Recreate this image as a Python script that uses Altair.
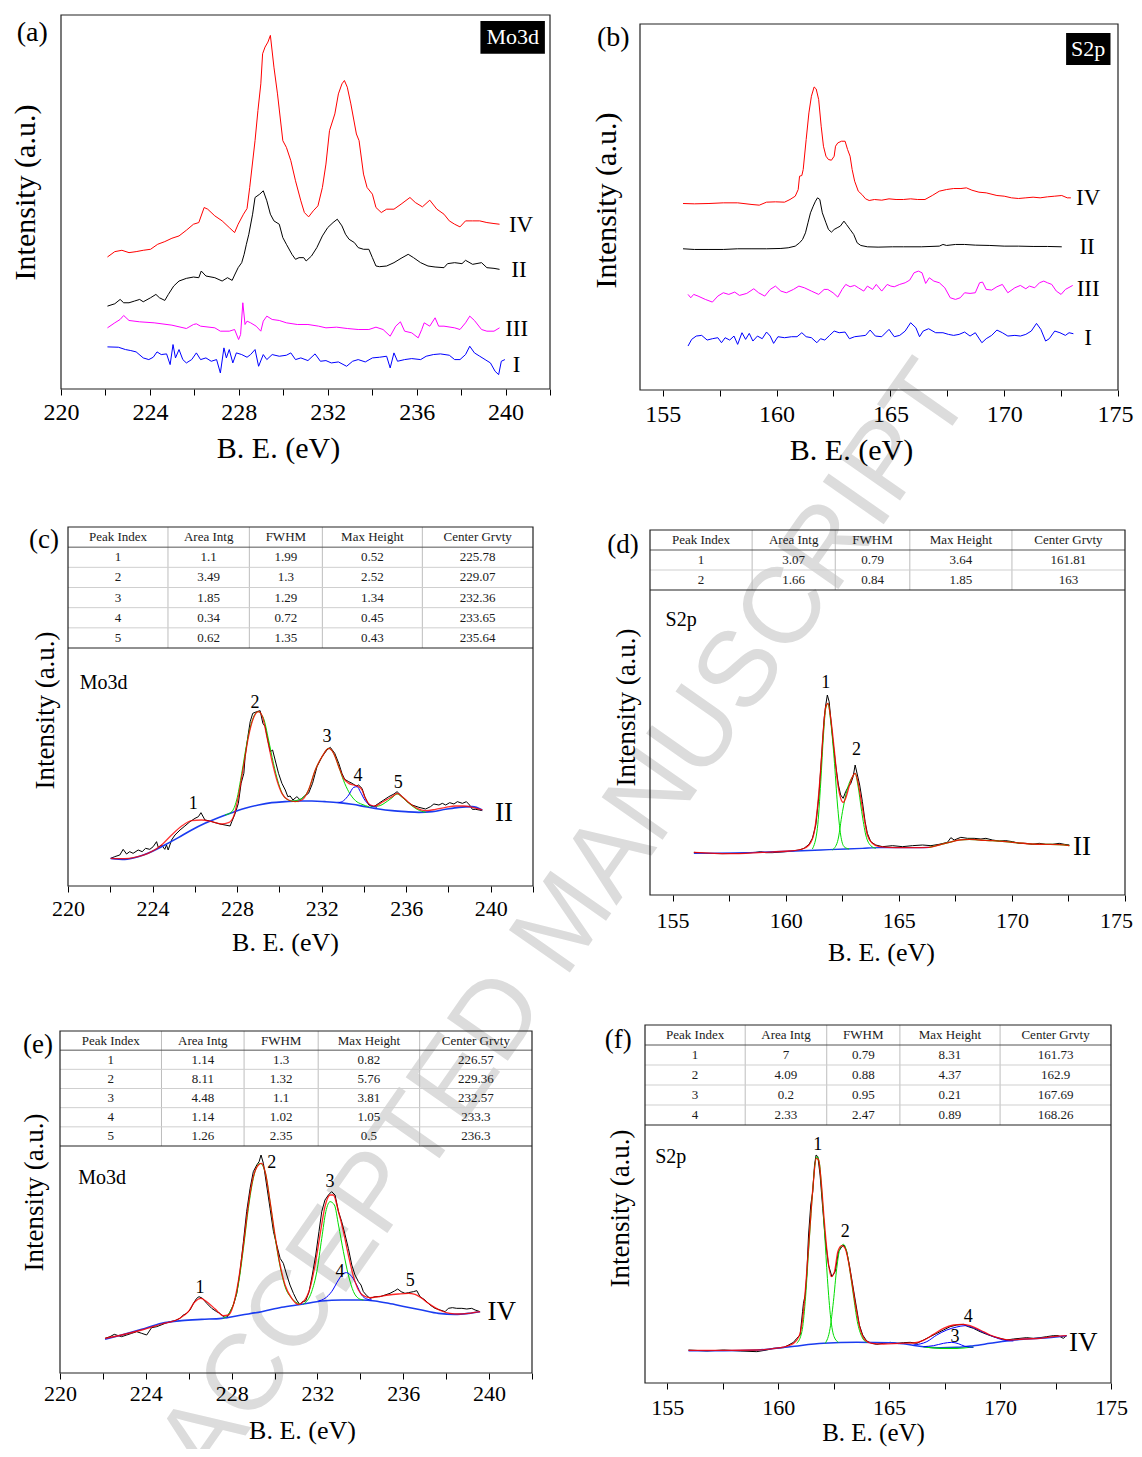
import altair as alt
import pandas as pd

FONT = "Liberation Serif"
W, H = 1126, 1441
MARGIN = 8

# ---------------- data: panel (a) Mo3d survey (x = B.E. eV, y = intensity a.u.) ----------------
A_IV = [(222.09,395),(222.42,411),(222.74,415),(223.06,408),(223.38,411),(223.70,415),(224.03,418),(224.35,433),
        (224.67,441),(224.99,451),(225.31,458),(225.64,475),(225.96,493),(226.20,498),(226.44,543),(226.60,538),
        (226.92,518),(227.25,503),(227.57,483),(227.81,468),(227.97,493),(228.21,523),(228.37,540),(228.49,603),
        (228.73,743),(228.86,833),(228.99,913),(229.07,1003),(229.18,1023),(229.31,1038),(229.42,1058),(229.58,963),
        (229.74,883),(229.98,743),(230.14,723),(230.34,683),(230.55,623),(230.79,563),(230.95,528),(231.14,515),
        (231.35,533),(231.56,548),(231.76,603),(231.92,673),(232.08,773),(232.32,823),(232.48,883),(232.64,913),
        (232.75,923),(232.88,903),(233.04,853),(233.29,763),(233.41,743),(233.61,643),(233.77,603),(234.01,583),
        (234.17,543),(234.41,528),(234.65,538),(234.98,538),(235.30,553),(235.70,573),(235.94,558),(236.26,545),
        (236.59,565),(236.91,538),(237.23,523),(237.47,503),(237.71,493),(237.95,485),(238.20,503),(238.52,503),
        (238.84,503),(239.16,498),(239.48,495),(239.73,493)]
A_II = [(222.09,248),(222.42,255),(222.66,268),(222.82,258),(223.06,258),(223.30,263),(223.54,268),(223.70,261),
        (224.03,273),(224.27,283),(224.43,273),(224.67,265),(224.83,283),(225.07,308),(225.31,323),(225.64,331),
        (225.96,335),(226.20,333),(226.31,353),(226.52,338),(226.92,333),(227.25,323),(227.49,333),(227.70,325),
        (227.81,341),(227.97,363),(228.13,378),(228.24,403),(228.34,433),(228.45,463),(228.62,523),(228.73,573),
        (228.94,583),(229.10,593),(229.26,563),(229.42,523),(229.58,503),(229.82,493),(229.98,453),(230.14,433),
        (230.39,403),(230.55,388),(230.71,393),(230.92,393),(231.03,383),(231.27,398),(231.51,423),(231.76,458),
        (232.00,483),(232.24,498),(232.43,508),(232.64,488),(232.80,463),(232.96,448),(233.20,438),(233.37,423),
        (233.61,418),(233.85,418),(234.01,393),(234.17,368),(234.33,366),(234.65,368),(234.98,378),(235.30,391),
        (235.62,403),(235.86,393),(236.18,378),(236.51,368),(236.83,365),(237.23,363),(237.39,375),(237.71,378),
        (238.04,375),(238.20,385),(238.52,373),(238.92,378),(239.16,363),(239.48,361),(239.73,358)]
A_III = [(222.09,183),(222.42,198),(222.66,208),(222.82,220),(223.06,205),(223.54,201),(224.19,198),(224.99,191),
         (225.64,181),(225.96,193),(226.09,195),(226.28,188),(226.92,183),(227.17,173),(227.57,173),(227.81,178),
         (227.99,148),(228.08,163),(228.18,258),(228.28,193),(228.37,203),(228.53,198),(228.78,188),(228.99,173),
         (229.10,203),(229.26,218),(229.50,208),(229.82,205),(230.14,198),(230.63,193),(231.11,193),(231.59,188),
         (231.92,183),(232.40,185),(232.88,181),(233.37,178),(233.85,178),(234.17,185),(234.49,178),(234.81,158),
         (235.06,188),(235.27,201),(235.46,173),(235.78,168),(236.07,153),(236.23,178),(236.34,198),(236.59,188),
         (236.83,213),(236.99,188),(237.23,188),(237.71,183),(237.95,178),(238.20,198),(238.39,218),(238.60,205),
         (238.92,178),(239.16,173),(239.48,173),(239.73,183)]
A_I = [(222.09,126),(222.58,125),(222.90,118),(223.14,115),(223.38,111),(223.70,93),(223.95,88),(224.15,95),
       (224.32,111),(224.51,103),(224.75,105),(224.91,73),(225.04,133),(225.15,93),(225.31,118),(225.48,88),
       (225.64,78),(225.88,88),(226.09,108),(226.28,88),(226.52,93),(226.76,83),(227.00,88),(227.17,48),
       (227.33,123),(227.44,93),(227.57,118),(227.73,78),(227.89,108),(228.13,103),(228.37,95),(228.53,103),
       (228.73,118),(228.89,68),(229.10,103),(229.26,88),(229.50,103),(229.82,98),(230.14,101),(230.34,108),
       (230.55,88),(230.79,93),(231.11,85),(231.43,105),(231.67,83),(231.92,85),(232.16,78),(232.48,81),
       (232.85,68),(233.12,83),(233.37,88),(233.69,81),(234.01,93),(234.33,95),(234.65,98),(234.81,63),
       (234.98,108),(235.14,83),(235.46,88),(235.78,91),(236.18,88),(236.43,98),(236.75,103),(237.07,105),
       (237.47,101),(237.71,88),(237.95,88),(238.20,103),(238.39,128),(238.60,108),(238.84,98),(239.08,88),
       (239.32,78),(239.53,53),(239.69,43),(239.81,83),(239.97,88)]
A_LABELS = [("IV", 240.7, 491), ("II", 240.6, 355), ("III", 240.5, 181), ("I", 240.5, 73)]

# ---------------- data: panel (b) S2p survey ----------------
B_IV = [(155.89,560),(156.39,559),(157.03,560),(157.66,562),(158.29,562),(158.92,557),(159.24,555),(159.56,564),
        (159.95,565),(160.35,564),(160.59,572),(160.82,582),(160.95,602),(161.01,642),(161.11,644),(161.17,662),
        (161.30,752),(161.42,832),(161.53,882),(161.65,910),(161.74,904),(161.85,872),(161.96,792),(162.06,732),
        (162.17,702),(162.28,692),(162.41,690),(162.53,702),(162.59,732),(162.69,742),(162.85,747),(163.01,747),
        (163.12,722),(163.23,702),(163.32,662),(163.43,627),(163.59,597),(163.75,587),(163.91,574),(164.07,569),
        (164.30,572),(164.62,570),(164.94,574),(165.25,572),(165.57,572),(165.89,574),(166.20,572),(166.52,572),
        (166.84,584),(167.15,597),(167.47,602),(167.78,605),(168.10,605),(168.34,607),(168.58,600),(168.89,594),
        (169.21,592),(169.68,584),(170.00,582),(170.32,577),(170.63,575),(170.95,577),(171.27,579),(171.58,577),
        (171.90,580),(172.22,582),(172.53,584),(172.77,577),(172.93,577)]
B_II = [(155.89,424),(156.39,422),(157.03,422),(157.66,422),(158.29,424),(158.92,424),(159.56,424),(160.19,425),
        (160.51,427),(160.82,432),(161.01,442),(161.14,452),(161.27,472),(161.38,502),(161.49,532),(161.61,552),
        (161.71,567),(161.80,577),(161.90,572),(162.01,532),(162.17,502),(162.28,482),(162.41,474),(162.53,482),
        (162.66,487),(162.80,492),(162.96,507),(163.07,497),(163.23,482),(163.39,467),(163.54,442),(163.70,434),
        (163.99,430),(164.46,429),(165.09,430),(165.57,430),(166.36,430),(167.15,432),(167.31,437),(167.47,434),
        (167.86,437),(168.26,437),(168.73,435),(169.37,434),(170.00,432),(170.63,432),(171.27,431),(171.90,431),
        (172.53,430)]
B_III = [(156.11,287),(156.23,277),(156.36,287),(156.55,282),(156.87,272),(157.18,264),(157.42,282),(157.66,292),
         (157.90,287),(158.16,294),(158.37,284),(158.69,290),(159.00,304),(159.21,292),(159.48,282),(159.72,302),
         (159.95,312),(160.19,297),(160.43,292),(160.74,302),(160.98,312),(161.22,307),(161.53,297),(161.85,287),
         (162.09,302),(162.25,302),(162.48,292),(162.69,279),(162.88,302),(163.04,317),(163.23,310),(163.43,314),
         (163.59,307),(163.83,297),(163.99,312),(164.22,302),(164.38,317),(164.62,297),(164.86,317),(165.02,312),
         (165.17,310),(165.41,317),(165.65,322),(165.85,330),(166.04,352),(166.23,357),(166.39,352),(166.55,320),
         (166.71,337),(166.91,327),(167.15,322),(167.39,307),(167.63,277),(167.86,272),(168.07,277),(168.26,292),
         (168.50,290),(168.73,292),(168.92,322),(169.05,324),(169.21,302),(169.45,300),(169.68,310),(169.92,317),
         (170.16,292),(170.47,307),(170.71,314),(170.95,304),(171.11,312),(171.34,307),(171.55,322),(171.74,327),
         (171.90,322),(172.09,317),(172.29,297),(172.50,287),(172.69,302),(173.01,314)]
B_I = [(156.11,132),(156.27,152),(156.47,162),(156.71,164),(156.95,150),(157.18,154),(157.42,157),(157.58,142),
       (157.74,157),(157.94,150),(158.13,162),(158.29,137),(158.48,172),(158.64,152),(158.80,170),(158.96,147),
       (159.16,162),(159.37,154),(159.56,174),(159.72,162),(159.87,140),(160.06,160),(160.35,157),(160.66,160),
       (160.90,160),(161.11,172),(161.30,160),(161.53,157),(161.77,142),(161.93,154),(162.12,150),(162.33,164),
       (162.53,177),(162.75,172),(163.01,174),(163.20,154),(163.43,160),(163.67,162),(163.91,164),(164.11,180),
       (164.34,162),(164.62,160),(164.94,182),(165.17,160),(165.41,164),(165.65,177),(165.89,202),(166.12,187),
       (166.28,160),(166.44,177),(166.68,184),(166.99,172),(167.31,172),(167.55,167),(167.78,164),(168.02,167),
       (168.26,174),(168.50,162),(168.73,172),(169.02,142),(169.21,154),(169.45,164),(169.68,180),(169.92,172),
       (170.16,162),(170.47,164),(170.71,162),(170.95,167),(171.19,177),(171.42,200),(171.61,182),(171.82,147),
       (171.98,154),(172.22,177),(172.45,172),(172.69,164),(172.85,172),(173.04,169)]
B_LABELS = [("IV", 173.69, 577), ("II", 173.64, 430), ("III", 173.69, 302), ("I", 173.69, 157)]

# ---------------- data: panel (c) Mo3d fit, sample II ----------------
C_RAW = [(222.02,83),(222.21,88),(222.45,93),(222.61,110),(222.77,96),(222.92,103),(223.08,98),(223.32,108),
         (223.51,103),(223.67,113),(223.87,110),(224.03,118),(224.19,133),(224.27,116),(224.43,123),(224.58,110),
         (224.66,123),(224.74,108),(224.90,138),(225.06,153),(225.30,168),(225.53,180),(225.77,193),(226.01,203),
         (226.17,208),(226.29,220),(226.48,198),(226.72,195),(226.96,190),(227.19,186),(227.43,183),(227.67,180),
         (227.75,193),(227.91,218),(228.06,248),(228.19,308),(228.32,338),(228.38,388),(228.51,448),(228.62,493),
         (228.74,518),(228.93,523),(229.09,526),(229.22,488),(229.33,478),(229.45,438),(229.57,403),(229.68,408),
         (229.80,378),(229.96,338),(230.12,308),(230.28,288),(230.40,268),(230.51,270),(230.64,258),(230.83,268),
         (230.99,258),(231.19,270),(231.38,278),(231.57,308),(231.78,358),(232.02,388),(232.25,408),(232.41,416),
         (232.62,398),(232.81,368),(232.96,338),(233.09,320),(233.28,313),(233.44,308),(233.64,300),(233.75,303),
         (233.91,293),(234.04,268),(234.23,243),(234.47,238),(234.70,248),(234.94,258),(235.18,268),(235.42,276),
         (235.57,283),(235.81,268),(236.05,253),(236.28,243),(236.60,236),(236.92,231),(237.15,238),(237.31,246),
         (237.55,243),(237.71,248),(237.87,243),(238.06,250),(238.26,246),(238.42,253),(238.66,248),(238.85,253),
         (239.00,243),(239.13,230),(239.29,230),(239.45,228),(239.60,226)]
C_FIT = [(222.02,83),(222.69,82),(223.16,86),(223.79,98),(224.43,123),(224.90,153),(225.38,180),(225.85,196),
         (226.32,198),(226.80,193),(227.27,186),(227.59,190),(227.83,208),(228.06,268),(228.30,358),(228.54,448),
         (228.77,503),(229.01,523),(229.20,508),(229.41,448),(229.64,378),(229.88,318),(230.12,278),(230.43,258),
         (230.75,253),(231.07,258),(231.38,288),(231.70,348),(232.02,388),(232.33,413),(232.57,398),(232.81,358),
         (233.04,323),(233.28,308),(233.52,303),(233.75,298),(233.91,288),(234.07,263),(234.31,243),(234.55,240),
         (234.78,248),(235.10,260),(235.34,268),(235.57,278),(235.81,268),(236.13,250),(236.52,233),(236.92,226),
         (237.39,230),(237.87,236),(238.34,240),(238.74,240),(239.13,236),(239.60,228)]
C_BASE = [(222.02,83),(222.69,80),(223.32,88),(223.95,103),(224.58,123),(225.22,145),(225.85,168),(226.48,188),
          (227.11,205),(227.75,220),(228.38,233),(229.01,243),(229.64,250),(230.28,253),(230.91,255),(231.54,255),
          (232.17,253),(232.81,250),(233.44,245),(234.07,238),(234.70,231),(235.34,226),(235.97,223),(236.60,221),
          (237.23,223),(237.87,230),(238.50,236),(239.13,238),(239.60,228)]
C_P2 = [(227.43,213),(227.75,223),(227.98,258),(228.22,338),(228.46,428),(228.70,493),(228.98,523),(229.25,503),
        (229.49,438),(229.72,368),(229.96,308),(230.20,270),(230.51,256),(230.91,253)]
C_P3 = [(230.59,254),(231.07,263),(231.38,288),(231.70,348),(232.02,388),(232.33,413),(232.57,398),(232.81,358),
        (233.04,316),(233.28,283),(233.60,256),(233.91,245),(234.23,238)]
C_P4 = [(232.81,250),(233.04,256),(233.28,273),(233.52,296),(233.68,298),(233.83,283),(234.04,258),(234.31,242),
        (234.62,236)]
C_P5 = [(234.31,238),(234.70,240),(235.10,254),(235.34,265),(235.57,276),(235.81,266),(236.13,248),(236.52,230),
        (236.92,221)]
C_PEAKS = [("1", 225.93, 246), ("2", 228.85, 550), ("3", 232.25, 446), ("4", 233.72, 331), ("5", 235.62, 308)]

# ---------------- data: panel (d) S2p fit, sample II ----------------
D_RAW = [(155.94,128),(156.46,125),(157.20,124),(157.94,125),(158.67,128),(158.89,130),(159.12,127),(159.41,127),
         (160.00,130),(160.29,132),(160.59,135),(160.81,140),(161.03,152),(161.18,170),(161.33,210),(161.47,300),
         (161.59,420),(161.70,530),(161.77,570),(161.84,600),(161.92,580),(161.99,530),(162.09,460),(162.21,390),
         (162.33,330),(162.43,300),(162.54,290),(162.65,310),(162.77,325),(162.88,335),(162.98,355),(163.07,390),
         (163.17,360),(163.27,330),(163.39,280),(163.51,220),(163.61,185),(163.76,160),(163.98,150),(164.28,145),
         (164.72,148),(165.16,145),(165.60,148),(166.05,150),(166.42,148),(166.78,152),(167.15,158),(167.30,172),
         (167.45,165),(167.74,173),(168.04,170),(168.33,170),(168.63,168),(168.85,170),(169.14,165),(169.44,162),
         (169.73,163),(170.03,160),(170.32,155),(170.62,155),(170.91,152),(171.21,155),(171.50,152),(171.80,152),
         (172.09,155),(172.32,152),(172.54,150)]
D_FIT = [(155.94,128),(157.49,124),(158.97,128),(160.15,132),(160.74,138),(161.03,150),(161.25,185),(161.40,260),
         (161.55,380),(161.67,500),(161.77,565),(161.87,575),(161.99,530),(162.14,440),(162.29,340),(162.43,290),
         (162.54,278),(162.65,290),(162.80,325),(162.95,355),(163.07,365),(163.19,340),(163.32,290),(163.47,230),
         (163.61,180),(163.83,155),(164.13,145),(164.87,142),(165.60,142),(166.34,143),(166.78,150),(167.23,158),
         (167.67,165),(168.11,167),(168.55,165),(169.14,163),(169.73,160),(170.32,156),(170.91,153),(171.50,152),
         (172.09,151),(172.54,148)]
D_BASE = [(155.94,125),(158.23,127),(160.44,132),(161.92,136),(163.39,140),(164.13,142),(165.60,142),(166.34,143)]
D_BUMP = [(166.34,143),(166.78,150),(167.23,158),(167.67,165),(168.11,167),(168.55,165),(169.14,163),(169.73,160),
          (170.32,156),(170.91,153),(171.50,152),(172.09,151),(172.54,148)]
D_P1 = [(161.18,138),(161.40,200),(161.55,340),(161.67,480),(161.77,560),(161.87,575),(161.99,520),(162.14,410),
        (162.29,270),(162.43,180),(162.58,145),(162.80,138)]
D_P2 = [(162.06,135),(162.29,160),(162.51,250),(162.73,320),(162.95,355),(163.07,365),(163.19,330),(163.36,250),
        (163.54,180),(163.76,148),(163.98,140)]
D_PEAKS = [("1", 161.77, 635), ("2", 163.13, 435)]

# ---------------- data: panel (e) Mo3d fit, sample IV ----------------
E_RAW = [(222.10,104),(222.33,109),(222.53,116),(222.72,112),(222.87,109),(223.11,114),(223.34,119),(223.57,124),
         (223.81,119),(224.04,114),(224.27,136),(224.51,139),(224.71,144),(224.90,149),(225.13,154),(225.36,157),
         (225.59,164),(225.75,174),(225.91,179),(226.06,189),(226.22,209),(226.37,224),(226.48,229),(226.64,224),
         (226.84,209),(227.07,194),(227.30,184),(227.46,179),(227.61,169),(227.77,166),(227.93,184),(228.08,204),
         (228.24,239),(228.39,304),(228.55,394),(228.70,484),(228.86,554),(229.01,604),(229.17,624),(229.28,634),
         (229.37,654),(229.48,629),(229.63,564),(229.79,494),(229.95,424),(230.10,384),(230.26,344),(230.41,329),
         (230.57,294),(230.72,264),(230.88,239),(231.03,219),(231.19,204),(231.30,214),(231.45,216),(231.61,244),
         (231.76,294),(231.92,354),(232.07,424),(232.20,484),(232.35,519),(232.51,534),(232.66,544),(232.82,534),
         (232.98,484),(233.13,454),(233.29,414),(233.44,374),(233.60,324),(233.75,294),(233.91,274),(234.03,264),
         (234.14,244),(234.30,232),(234.45,224),(234.69,229),(234.92,229),(235.15,234),(235.38,239),(235.59,246),
         (235.74,252),(235.90,244),(236.08,239),(236.24,241),(236.47,244),(236.63,247),(236.78,229),(237.01,219),
         (237.25,204),(237.48,194),(237.72,189),(237.95,184),(238.10,194),(238.29,196),(238.49,194),(238.73,194),
         (238.96,192),(239.19,194),(239.35,189),(239.58,184)]
E_FIT = [(222.10,104),(222.87,114),(223.81,129),(224.74,147),(225.52,162),(225.98,184),(226.29,214),(226.56,224),
         (226.84,214),(227.23,192),(227.61,172),(227.85,174),(228.08,204),(228.31,274),(228.55,384),(228.78,504),
         (229.01,589),(229.25,624),(229.40,629),(229.56,604),(229.79,514),(230.02,414),(230.26,324),(230.49,264),
         (230.80,224),(231.11,206),(231.34,214),(231.65,254),(231.89,324),(232.12,414),(232.35,499),(232.59,534),
         (232.74,534),(232.98,484),(233.21,424),(233.44,354),(233.68,289),(233.91,249),(234.14,232),(234.45,226),
         (234.84,229),(235.31,234),(235.77,237),(236.24,239),(236.55,236),(236.86,224),(237.17,209),(237.48,196),
         (237.79,186),(238.18,179),(238.57,177),(239.04,179),(239.58,184)]
E_BASE = [(222.10,101),(222.87,114),(223.81,131),(224.74,149),(225.67,157),(226.60,161),(227.54,164),(228.47,174),
          (229.40,184),(230.33,197),(231.27,206),(232.20,216),(233.13,219),(234.06,219),(234.69,216),(235.31,209),
          (236.08,199),(236.86,189),(237.64,179),(238.41,176),(239.04,179),(239.58,184)]
E_P2 = [(227.61,164),(227.93,184),(228.31,264),(228.55,374),(228.78,494),(229.01,584),(229.32,629),(229.56,604),
        (229.79,514),(230.02,409),(230.26,319),(230.49,259),(230.80,224),(231.19,206)]
E_P3 = [(231.34,206),(231.73,244),(231.97,304),(232.20,404),(232.39,484),(232.59,514),(232.79,504),(232.98,444),
        (233.21,364),(233.44,294),(233.68,244),(233.91,224),(234.14,219)]
E_P4 = [(232.04,216),(232.35,224),(232.66,244),(232.98,279),(233.21,299),(233.36,301),(233.60,289),(233.83,264),
        (234.06,234),(234.30,222),(234.53,219)]
E_PEAKS = [("1", 226.53, 254), ("2", 229.87, 629), ("3", 232.59, 574), ("4", 233.05, 304), ("5", 236.32, 276)]

# ---------------- data: panel (f) S2p fit, sample IV ----------------
F_RAW = [(155.96,99),(156.79,96),(157.54,99),(158.29,96),(159.04,94),(159.49,99),(159.79,104),(160.24,106),
         (160.47,114),(160.69,122),(160.84,134),(160.99,144),(161.10,214),(161.14,239),(161.22,264),(161.29,324),
         (161.37,444),(161.47,534),(161.56,574),(161.64,654),(161.71,684),(161.79,679),(161.89,624),(162.01,524),
         (162.12,434),(162.27,354),(162.42,319),(162.57,334),(162.72,394),(162.87,409),(162.97,414),(163.09,394),
         (163.21,354),(163.36,294),(163.51,234),(163.66,174),(163.81,144),(163.99,126),(164.22,119),(164.44,116),
         (164.74,119),(165.05,122),(165.35,119),(165.65,121),(165.95,122),(166.25,119),(166.55,129),(166.85,139),
         (167.15,149),(167.45,159),(167.75,169),(168.05,174),(168.35,176),(168.57,169),(168.80,164),(169.10,154),
         (169.40,146),(169.70,139),(170.00,134),(170.30,129),(170.60,132),(170.90,134),(171.20,136),(171.50,134),
         (171.80,136),(172.10,139),(172.40,142),(172.63,142),(172.85,134),(173.00,142)]
F_FIT = [(155.96,98),(157.54,98),(159.04,99),(160.09,106),(160.69,119),(160.99,149),(161.14,214),(161.29,334),
         (161.44,474),(161.59,604),(161.71,674),(161.82,669),(161.94,604),(162.07,494),(162.22,384),(162.39,319),
         (162.54,334),(162.69,394),(162.87,412),(163.02,404),(163.17,364),(163.32,304),(163.51,224),(163.69,164),
         (163.92,129),(164.22,119),(164.74,117),(165.50,119),(166.10,120),(166.55,128),(167.00,146),(167.45,164),
         (167.90,174),(168.27,176),(168.65,172),(169.10,159),(169.55,144),(170.00,134),(170.45,129),(171.05,132),
         (171.80,134),(172.40,139),(173.00,142)]
F_BASE = [(155.96,97),(157.54,97),(159.04,99),(160.54,109),(162.04,119),(163.54,122),(165.05,121),(165.80,116),
          (166.55,109),(167.30,106),(168.05,107),(168.80,112),(169.55,119),(170.30,126),(171.05,131),(171.80,134),
          (173.00,142)]
F_P1 = [(160.84,119),(161.07,154),(161.22,244),(161.37,394),(161.52,544),(161.64,644),(161.74,679),(161.85,664),
        (161.97,574),(162.09,454),(162.22,314),(162.37,194),(162.52,139),(162.72,122)]
F_P2 = [(162.12,119),(162.34,164),(162.49,244),(162.64,344),(162.79,404),(162.94,416),(163.09,394),(163.24,334),
        (163.39,264),(163.57,184),(163.77,139),(163.99,122)]
F_P3 = [(166.55,109),(167.00,112),(167.45,119),(167.82,122),(168.12,118),(168.42,110),(168.80,107)]
F_P3G = [(166.55,109),(167.30,104),(168.05,104),(168.80,108)]
F_P4 = [(166.10,114),(166.70,124),(167.15,144),(167.60,159),(168.05,168),(168.42,172),(168.80,166),(169.25,152),
        (169.70,139),(170.15,129),(170.60,126)]
F_PEAKS = [("1", 161.79, 714), ("2", 163.02, 454), ("3", 167.97, 139), ("4", 168.57, 199)]

# ---------------- fit tables ----------------
HEADERS = ["Peak Index", "Area Intg", "FWHM", "Max Height", "Center Grvty"]
C_TABLE = [["1", "1.1", "1.99", "0.52", "225.78"],
           ["2", "3.49", "1.3", "2.52", "229.07"],
           ["3", "1.85", "1.29", "1.34", "232.36"],
           ["4", "0.34", "0.72", "0.45", "233.65"],
           ["5", "0.62", "1.35", "0.43", "235.64"]]
D_TABLE = [["1", "3.07", "0.79", "3.64", "161.81"],
           ["2", "1.66", "0.84", "1.85", "163"]]
E_TABLE = [["1", "1.14", "1.3", "0.82", "226.57"],
           ["2", "8.11", "1.32", "5.76", "229.36"],
           ["3", "4.48", "1.1", "3.81", "232.57"],
           ["4", "1.14", "1.02", "1.05", "233.3"],
           ["5", "1.26", "2.35", "0.5", "236.3"]]
F_TABLE = [["1", "7", "0.79", "8.31", "161.73"],
           ["2", "4.09", "0.88", "4.37", "162.9"],
           ["3", "0.2", "0.95", "0.21", "167.69"],
           ["4", "2.33", "2.47", "0.89", "168.26"]]

# ---------------- layout (page pixels) ----------------
TICKS_MO = [220, 222, 224, 226, 228, 230, 232, 234, 236, 238, 240, 242]
TICKS_S = [155, 157.5, 160, 162.5, 165, 167.5, 170, 172.5, 175]
COL_EDGES = [21.5, 39.0, 54.7, 76.2]
COL_CENTERS = [10.75, 30.25, 46.85, 65.45, 88.1]

LA = dict(xdom=[220, 242], ydom=[0, 1119], left=61, right=550, bottom=389, top=15, ticks=TICKS_MO, major=4,
          lfs=24, lpad=17, tfs=30, tx=278, ty=68, ytx=25, yty=192, ytfs=30, edge=0)
LB = dict(xdom=[154, 175], ydom=[0, 1099], left=640, right=1118, bottom=390, top=24, ticks=TICKS_S, major=5,
          lfs=24, lpad=18, tfs=30, tx=851, ty=69, ytx=606, yty=200, ytfs=30, edge=-3)
LC = dict(xdom=[220, 242], ydom=[0, 1077], left=68, right=533, bottom=886, top=527, tbottom=648, ticks=TICKS_MO,
          major=4, lfs=22, lpad=16, tfs=26, tx=285, ty=64, ytx=45, yty=710, ytfs=27, edge=0)
LD = dict(xdom=[154, 175], ydom=[0, 1095], left=650, right=1125, bottom=895, top=530, tbottom=590, ticks=TICKS_S,
          major=5, lfs=22, lpad=19, tfs=26, tx=881, ty=65, ytx=626, yty=707, ytfs=27, edge=-9)
LE = dict(xdom=[220, 242], ydom=[0, 1026], left=60, right=532, bottom=1373, top=1031, tbottom=1146, ticks=TICKS_MO,
          major=4, lfs=22, lpad=14, tfs=26, tx=302, ty=65, ytx=34, yty=1192, ytfs=27, edge=0)
LF = dict(xdom=[154, 175], ydom=[0, 1074], left=645, right=1111, bottom=1383, top=1025, tbottom=1125, ticks=TICKS_S,
          major=5, lfs=22, lpad=18, tfs=25, tx=873, ty=57, ytx=620, yty=1208, ytfs=27, edge=0)

RED, BLACK, MAG, BLUE, GREEN, BASE = "#ff0000", "#000000", "#ff00ff", "#0000ff", "#00dd00", "#1a3cf0"


def c(p):
    return p - MARGIN


def xaxis(L):
    return alt.Axis(orient="bottom", offset=c(L["bottom"]) - H, values=L["ticks"], zindex=2,
                    labelExpr="datum.value %% %d == 0 ? datum.label : ''" % L["major"],
                    labelOffset={"condition": {"test": "datum.value == 175", "value": L["edge"]}, "value": 0},
                    domain=False, grid=False, ticks=True, tickSize=6, tickColor="black", tickWidth=1,
                    labelFont=FONT, labelFontSize=L["lfs"], labelColor="black", labelFlush=False,
                    labelOverlap=False, labelBaseline="middle", labelPadding=L["lpad"],
                    title="B. E. (eV)", titleFont=FONT, titleFontSize=L["tfs"], titleFontWeight="normal",
                    titleColor="black", titleX=c(L["tx"]), titleY=L["ty"], titleAlign="center",
                    titleBaseline="alphabetic")


def yaxis(L):
    return alt.Axis(orient="left", offset=-c(L["left"]), domain=False, ticks=False, labels=False, grid=False,
                    zindex=2, title="Intensity (a.u.)", titleFont=FONT, titleFontSize=L["ytfs"],
                    titleFontWeight="normal", titleColor="black", titleAngle=270, titleAlign="center",
                    titleBaseline="middle", titleX=L["ytx"] - L["left"], titleY=c(L["yty"]))


def panel(L, lines, texts, boxes=()):
    X = alt.X("x:Q", scale=alt.Scale(domain=L["xdom"], range=[c(L["left"]), c(L["right"])], nice=False, zero=False),
              axis=xaxis(L))
    Y = alt.Y("y:Q", scale=alt.Scale(domain=L["ydom"], range=[c(L["bottom"]), c(L["top"])], nice=False, zero=False),
              axis=yaxis(L))
    layers = []
    frame = pd.DataFrame({"x": [L["xdom"][0]], "x2": [L["xdom"][1]], "y": [L["ydom"][0]], "y2": [L["ydom"][1]]})
    layers.append(alt.Chart(frame).mark_rect(fillOpacity=0, stroke="#222222", strokeWidth=1.2)
                  .encode(x=X, x2="x2:Q", y=Y, y2="y2:Q"))
    for pts, color, width, interp, op in lines:
        df = pd.DataFrame(pts, columns=["x", "y"])
        layers.append(alt.Chart(df).mark_line(color=color, strokeWidth=width, interpolate=interp, opacity=op)
                      .encode(x=X, y=Y))
    for (x0, x1, y0, y1) in boxes:
        bdf = pd.DataFrame({"x": [x0], "x2": [x1], "y": [y0], "y2": [y1]})
        layers.append(alt.Chart(bdf).mark_rect(color="black").encode(x=X, x2="x2:Q", y=Y, y2="y2:Q"))
    for items, size, align, color in texts:
        tdf = pd.DataFrame(items, columns=["t", "x", "y"])
        layers.append(alt.Chart(tdf).mark_text(font=FONT, fontSize=size, align=align, baseline="middle",
                                               color=color).encode(x=X, y=Y, text="t:N"))
    return alt.layer(*layers)


def table(L, rows):
    n = len(rows) + 1
    TX = alt.X("x:Q", scale=alt.Scale(domain=[0, 100], range=[c(L["left"]), c(L["right"])], nice=False, zero=False),
               axis=None)
    TY = alt.Y("y:Q", scale=alt.Scale(domain=[0, n], range=[c(L["top"]), c(L["tbottom"])], nice=False, zero=False),
               axis=None)
    cells = [(COL_CENTERS[j], 0.5, h) for j, h in enumerate(HEADERS)]
    for i, r in enumerate(rows):
        for j, v in enumerate(r):
            cells.append((COL_CENTERS[j], i + 1.5, v))
    text = alt.Chart(pd.DataFrame(cells, columns=["x", "y", "t"])).mark_text(
        font=FONT, fontSize=13, color="#1a1a1a", baseline="middle").encode(x=TX, y=TY, text="t:N")
    vl = pd.DataFrame([(e, 0, n) for e in COL_EDGES], columns=["x", "y", "y2"])
    vlines = alt.Chart(vl).mark_rule(color="#bdbdbd", strokeWidth=1).encode(x=TX, y=TY, y2="y2:Q")
    hl = pd.DataFrame([(0, 100, k) for k in range(2, n)], columns=["x", "x2", "y"])
    hlines = alt.Chart(hl).mark_rule(color="#cfcfcf", strokeWidth=1).encode(x=TX, x2="x2:Q", y=TY)
    head = pd.DataFrame([(0, 100, 1)], columns=["x", "x2", "y"])
    hline = alt.Chart(head).mark_rule(color="#555555", strokeWidth=1).encode(x=TX, x2="x2:Q", y=TY)
    bot = pd.DataFrame([(0, 100, n)], columns=["x", "x2", "y"])
    bline = alt.Chart(bot).mark_rule(color="#222222", strokeWidth=1.2).encode(x=TX, x2="x2:Q", y=TY)
    return alt.layer(vlines, hlines, hline, bline, text)


# ---------------- build panels ----------------
pa = panel(LA,
           [(A_I, BLUE, 1.0, "linear", 1), (A_III, MAG, 1.0, "linear", 1),
            (A_II, BLACK, 1.0, "linear", 1), (A_IV, RED, 1.0, "linear", 1)],
           [(A_LABELS, 23, "center", "black"),
            ([("Mo3d", 240.32, 1052)], 22, "center", "white"),
            ([("(a)", 218.71, 1066)], 28, "center", "black")],
           boxes=[(238.87, 241.77, 1003, 1101)])

pb = panel(LB,
           [(B_I, BLUE, 1.0, "linear", 1), (B_III, MAG, 1.0, "linear", 1),
            (B_II, BLACK, 1.0, "linear", 1), (B_IV, RED, 1.0, "linear", 1)],
           [(B_LABELS, 23, "center", "black"),
            ([("S2p", 173.69, 1024)], 22, "center", "white"),
            ([("(b)", 152.83, 1057)], 28, "center", "black")],
           boxes=[(172.72, 174.67, 976, 1072)])

pc = panel(LC,
           [(C_RAW, BLACK, 1.0, "linear", 1), (C_BASE, BASE, 1.6, "monotone", 1),
            (C_P2, GREEN, 1.0, "monotone", 1), (C_P3, GREEN, 1.0, "monotone", 1),
            (C_P5, GREEN, 1.0, "monotone", 1), (C_P4, BLUE, 1.0, "monotone", 1),
            (C_FIT, RED, 1.3, "monotone", 0.8)],
           [(C_PEAKS, 18, "center", "black"),
            ([("II", 240.63, 220)], 27, "center", "black"),
            ([("Mo3d", 220.55, 608)], 20, "left", "black"),
            ([("(c)", 218.86, 1038)], 27, "center", "black")])

pd_ = panel(LD,
            [(D_RAW, BLACK, 1.0, "linear", 1), (D_BASE, BASE, 1.4, "monotone", 1),
             (D_BUMP, GREEN, 1.2, "monotone", 1),
             (D_P1, GREEN, 1.0, "monotone", 1), (D_P2, GREEN, 1.0, "monotone", 1),
             (D_FIT, RED, 1.3, "monotone", 0.85)],
            [(D_PEAKS, 18, "center", "black"),
             ([("II", 173.10, 143)], 27, "center", "black"),
             ([("S2p", 154.69, 825)], 20, "left", "black"),
             ([("(d)", 152.81, 1050)], 27, "center", "black")])

pe = panel(LE,
           [(E_RAW, BLACK, 1.0, "linear", 1), (E_BASE, BASE, 1.6, "monotone", 1),
            (E_P2, GREEN, 1.0, "monotone", 1), (E_P3, GREEN, 1.0, "monotone", 1),
            (E_P4, BLUE, 1.0, "monotone", 1),
            (E_FIT, RED, 1.3, "monotone", 0.85)],
           [(E_PEAKS, 18, "center", "black"),
            ([("IV", 240.59, 184)], 27, "center", "black"),
            ([("Mo3d", 220.85, 584)], 20, "left", "black"),
            ([("(e)", 218.97, 984)], 27, "center", "black")])

pf = panel(LF,
           [(F_RAW, BLACK, 1.0, "linear", 1), (F_BASE, BASE, 1.5, "monotone", 1),
            (F_P3G, GREEN, 1.2, "monotone", 1),
            (F_P1, GREEN, 1.0, "monotone", 1), (F_P2, GREEN, 1.0, "monotone", 1),
            (F_P3, BLUE, 1.0, "monotone", 1), (F_P4, BLUE, 1.0, "monotone", 1),
            (F_FIT, RED, 1.3, "monotone", 0.85)],
           [(F_PEAKS, 18, "center", "black"),
            ([("IV", 173.75, 119)], 27, "center", "black"),
            ([("S2p", 154.46, 679)], 20, "left", "black"),
            ([("(f)", 152.79, 1029)], 27, "center", "black")])

watermark = alt.Chart(pd.DataFrame({"t": ["ACCEPTED MANUSCRIPT"]})).mark_text(
    font="Liberation Sans", fontSize=108, angle=305, color="#dcdcdc",
    align="center", baseline="middle").encode(x=alt.value(c(566)), y=alt.value(c(922)), text="t:N")

chart = alt.layer(
    watermark, pa, pb,
    table(LC, C_TABLE), pc,
    table(LD, D_TABLE), pd_,
    table(LE, E_TABLE), pe,
    table(LF, F_TABLE), pf,
).resolve_scale(x="independent", y="independent").properties(
    width=W, height=H, padding=0, background="white",
    autosize=alt.AutoSizeParams(type="none"),
).configure_view(stroke=None)

chart.save("out.html", embed_options={"renderer": "svg", "actions": False})
